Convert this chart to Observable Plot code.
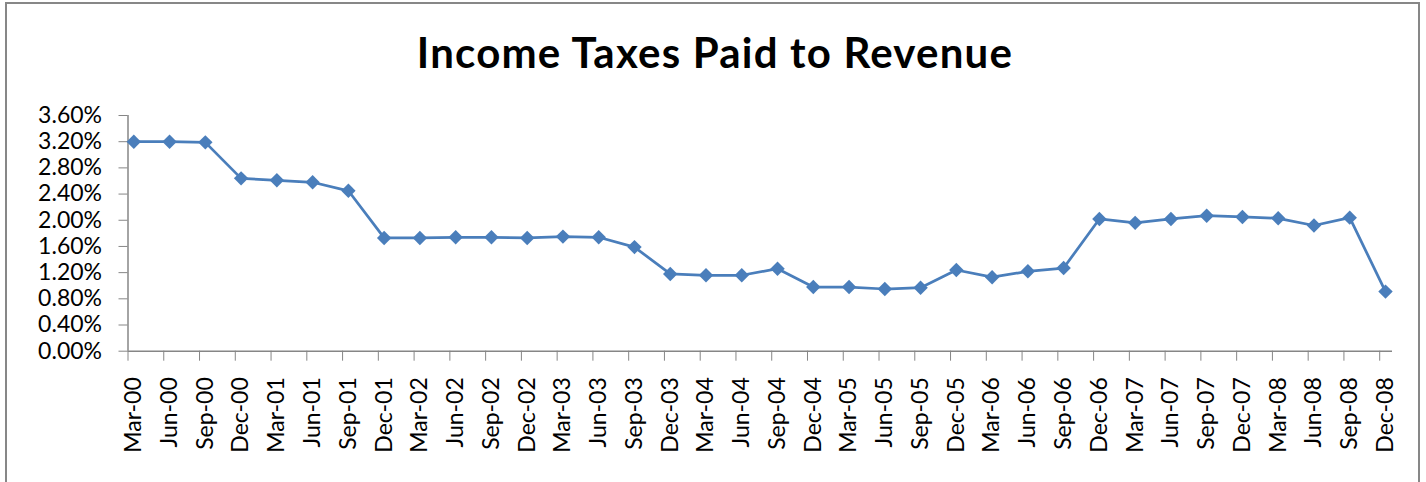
<!DOCTYPE html>
<html><head><meta charset="utf-8">
<script src="https://cdn.jsdelivr.net/npm/d3@7"></script>
<script src="https://cdn.jsdelivr.net/npm/@observablehq/plot@0.6"></script>
<style>
html,body{margin:0;padding:0;background:#fff;width:1426px;height:482px;overflow:hidden}
#wrap{position:relative;width:1426px;height:482px;overflow:hidden}
#border{position:absolute;left:5px;top:2px;width:1411px;height:540px;border:2px solid #878787}
#title{position:absolute;left:2px;top:26.8px;width:1426px;text-align:center;font-family:Lato,sans-serif;font-weight:bold;font-size:42px;letter-spacing:1.2px;line-height:50px;color:#000;white-space:nowrap}
#chart{position:absolute;left:0;top:95px;width:1426px}
#chart svg{max-width:none}
</style></head>
<body><div id="wrap"><div id="border"></div><div id="title">Income Taxes Paid to Revenue</div><div id="chart"></div></div>
<script>
const quarters = ["Mar-00","Jun-00","Sep-00","Dec-00","Mar-01","Jun-01","Sep-01","Dec-01",
  "Mar-02","Jun-02","Sep-02","Dec-02","Mar-03","Jun-03","Sep-03","Dec-03",
  "Mar-04","Jun-04","Sep-04","Dec-04","Mar-05","Jun-05","Sep-05","Dec-05",
  "Mar-06","Jun-06","Sep-06","Dec-06","Mar-07","Jun-07","Sep-07","Dec-07",
  "Mar-08","Jun-08","Sep-08","Dec-08"];
const taxRatio = [3.20,3.20,3.19,2.64,2.61,2.58,2.45,1.73,
  1.73,1.74,1.74,1.73,1.75,1.74,1.59,1.18,
  1.16,1.16,1.26,0.98,0.98,0.95,0.97,1.24,
  1.13,1.22,1.27,2.02,1.96,2.02,2.07,2.05,
  2.03,1.92,2.04,0.91];
const yTicks = [0,0.4,0.8,1.2,1.6,2.0,2.4,2.8,3.2,3.6];

const data = quarters.map((q, i) => ({i, q, v: taxRatio[i]}));
const xTicks = quarters.map((q, i) => i);
const axisGray = "#868686";
const blue = "#4A7EBB";

const chart = Plot.plot({
  width: 1426, height: 387,
  marginTop: 20, marginBottom: 131.3, marginLeft: 127.5, marginRight: 34,
  style: {fontFamily: "Lato, sans-serif", background: "transparent", color: "#000"},
  x: {type: "linear", domain: [0, quarters.length - 1], insetLeft: 5.8, insetRight: 7, label: null},
  y: {domain: [0, 3.6], label: null},
  marks: [
    Plot.ruleY([0], {stroke: axisGray, strokeWidth: 1.5}),
    Plot.ruleX([0], {y1: 0, y2: 3.6, dx: -5.8, stroke: axisGray, strokeWidth: 1.5}),
    Plot.axisY({ticks: yTicks, tickSize: 9, tickPadding: 17, tickFormat: d => d.toFixed(2) + "%",
      fontSize: 23, stroke: axisGray, fill: "#000", label: null}),
    Plot.axisX({ticks: xTicks, tickSize: 10, tickFormat: () => "", dx: -5.8, stroke: axisGray, label: null}),
    Plot.axisX({ticks: xTicks, tickSize: 0, tickPadding: 26, tickRotate: -90, tickFormat: i => quarters[i],
      fontSize: 23, fill: "#000", label: null}),
    Plot.line(data, {x: "i", y: "v", stroke: blue, strokeWidth: 2.75}),
    Plot.dot(data, {x: "i", y: "v", symbol: "diamond2", r: 6.5, fill: blue, stroke: "none"})
  ]
});
document.getElementById("chart").appendChild(chart);
</script>
</body></html>
